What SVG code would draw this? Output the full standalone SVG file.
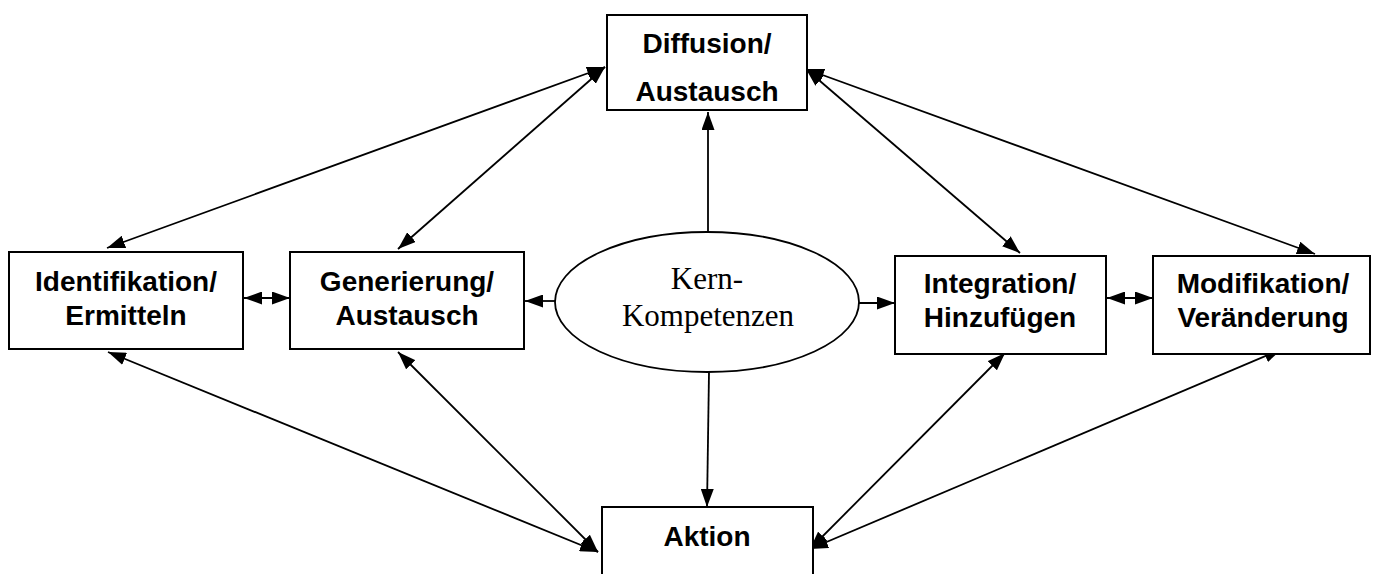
<svg xmlns="http://www.w3.org/2000/svg" width="1377" height="574" viewBox="0 0 1377 574">
<style>
.box{fill:#fff;stroke:#000;stroke-width:2}
.lbl{font-family:"Liberation Sans",Arial,sans-serif;font-weight:bold;font-size:28px;text-anchor:middle;fill:#000}
.ser{font-family:"Liberation Serif","Times New Roman",serif;font-size:31px;text-anchor:middle;fill:#000}
.con line{stroke:#000;stroke-width:1.8;fill:none}
</style>
<defs>
<marker id="ah" viewBox="0 0 18 13" refX="18" refY="6.5" markerWidth="18" markerHeight="13" markerUnits="userSpaceOnUse" orient="auto-start-reverse">
<path d="M0,0 L18,6.5 L0,13 z" fill="#000"/>
</marker>
</defs>
<rect width="1377" height="574" fill="#fff"/>
<g class="con">
<line x1="107" y1="248" x2="605" y2="67" marker-start="url(#ah)" marker-end="url(#ah)"/>
<line x1="398" y1="249" x2="605" y2="67" marker-start="url(#ah)" marker-end="url(#ah)"/>
<line x1="806" y1="69" x2="1020" y2="253" marker-start="url(#ah)" marker-end="url(#ah)"/>
<line x1="806" y1="69" x2="1315" y2="254" marker-start="url(#ah)" marker-end="url(#ah)"/>
<line x1="108" y1="352" x2="598" y2="552" marker-start="url(#ah)" marker-end="url(#ah)"/>
<line x1="398" y1="352" x2="598" y2="552" marker-start="url(#ah)" marker-end="url(#ah)"/>
<line x1="1005" y1="353" x2="810" y2="549" marker-start="url(#ah)" marker-end="url(#ah)"/>
<line x1="1282" y1="349" x2="810" y2="549" marker-start="url(#ah)" marker-end="url(#ah)"/>
<line x1="244" y1="298" x2="290" y2="298" marker-start="url(#ah)" marker-end="url(#ah)"/>
<line x1="1107" y1="298" x2="1153" y2="298" marker-start="url(#ah)" marker-end="url(#ah)"/>
<line x1="708" y1="232" x2="708" y2="112" marker-end="url(#ah)"/>
<line x1="555" y1="301" x2="525" y2="301" marker-end="url(#ah)"/>
<line x1="859" y1="303" x2="895" y2="303" marker-end="url(#ah)"/>
<line x1="709" y1="372" x2="707" y2="507" marker-end="url(#ah)"/>
</g>
<g id="diffusion">
<rect class="box" x="607" y="15" width="200" height="95"/>
<text class="lbl" x="707" y="53">Diffusion/</text>
<text class="lbl" x="707" y="101">Austausch</text>
</g>
<g id="identifikation">
<rect class="box" x="9" y="252" width="234" height="97"/>
<text class="lbl" x="126" y="291">Identifikation/</text>
<text class="lbl" x="126" y="325">Ermitteln</text>
</g>
<g id="generierung">
<rect class="box" x="290" y="252" width="234" height="97"/>
<text class="lbl" x="407" y="291">Generierung/</text>
<text class="lbl" x="407" y="325">Austausch</text>
</g>
<g id="kern">
<ellipse cx="707" cy="302" rx="152" ry="70" fill="#fff" stroke="#000" stroke-width="1.8"/>
<text class="ser" x="707" y="289">Kern-</text>
<text class="ser" x="708" y="326">Kompetenzen</text>
</g>
<g id="integration">
<rect class="box" x="895" y="256" width="211" height="98"/>
<text class="lbl" x="1000" y="293">Integration/</text>
<text class="lbl" x="1000" y="327">Hinzufügen</text>
</g>
<g id="modifikation">
<rect class="box" x="1153" y="256" width="217" height="98"/>
<text class="lbl" x="1263" y="293">Modifikation/</text>
<text class="lbl" x="1263" y="327">Veränderung</text>
</g>
<g id="aktion">
<rect class="box" x="602" y="507" width="211" height="80"/>
<text class="lbl" x="707" y="546">Aktion</text>
</g>
</svg>
